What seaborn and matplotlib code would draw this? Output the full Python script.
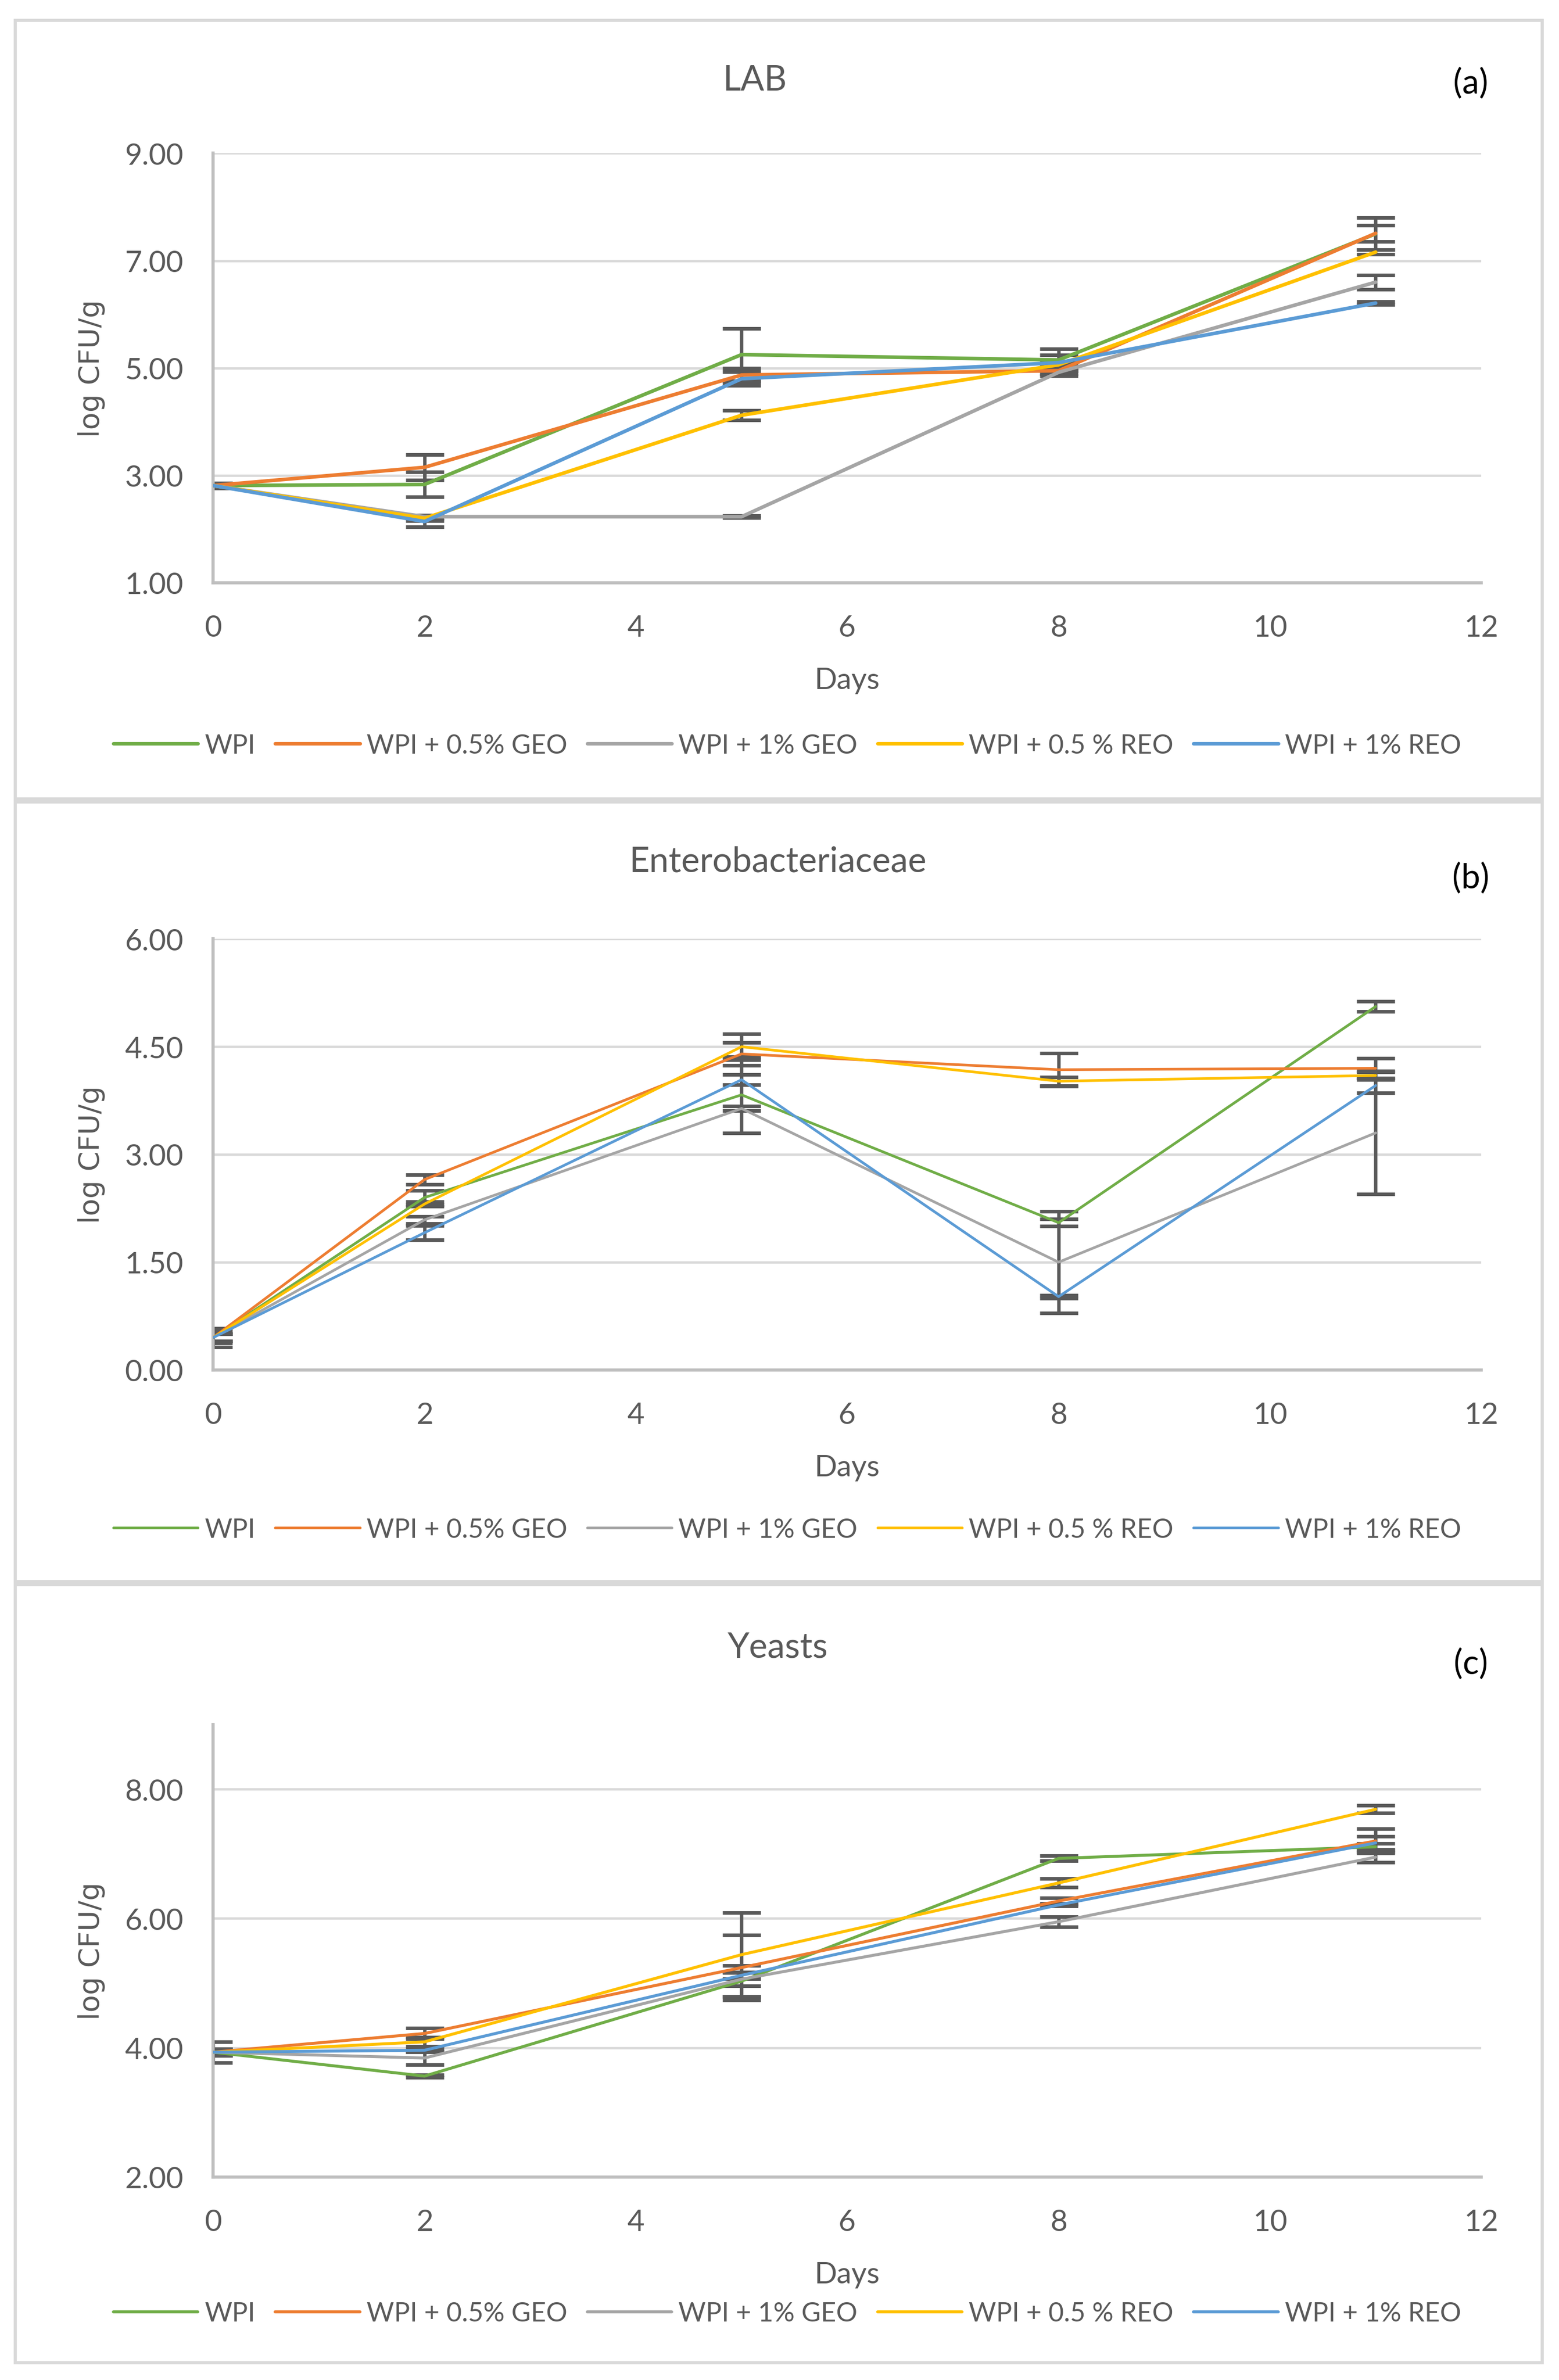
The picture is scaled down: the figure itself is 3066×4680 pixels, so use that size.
import matplotlib
matplotlib.use('Agg')
import matplotlib.pyplot as plt
import matplotlib.ticker as mticker
from matplotlib.patches import Rectangle
import pandas as pd
import seaborn as sns

days = [0, 2, 5, 8, 11]
series = ['WPI', 'WPI + 0.5% GEO', 'WPI + 1% GEO', 'WPI + 0.5 % REO', 'WPI + 1% REO']
colors = ['#70AD47', '#ED7D31', '#A5A5A5', '#FFC000', '#5B9BD5']

# (a) LAB, one row per series, one value per day
lab_mean = [[2.81, 2.83, 5.25, 5.15, 7.50],
            [2.81, 3.15, 4.87, 4.95, 7.51],
            [2.81, 2.23, 2.23, 4.92, 6.60],
            [2.81, 2.20, 4.12, 5.06, 7.16],
            [2.81, 2.14, 4.80, 5.10, 6.21]]
lab_err = [[0.05, 0.23, 0.49, 0.21, 0.30],
           [0.05, 0.24, 0.13, 0.10, 0.15],
           [0.03, 0.03, 0.02, 0.03, 0.13],
           [0.03, 0.05, 0.09, 0.05, 0.04],
           [0.05, 0.10, 0.13, 0.14, 0.03]]

# (b) Enterobacteriaceae
ent_mean = [[0.45, 2.40, 3.83, 2.05, 5.06],
            [0.45, 2.65, 4.40, 4.18, 4.20],
            [0.45, 2.09, 3.64, 1.50, 3.30],
            [0.45, 2.31, 4.50, 4.02, 4.10],
            [0.45, 1.91, 4.04, 1.02, 3.96]]
ent_err = [[0.13, 0.10, 0.53, 0.05, 0.07],
           [0.08, 0.07, 0.16, 0.23, 0.14],
           [0.05, 0.05, 0.03, 0.71, 0.85],
           [0.05, 0.03, 0.18, 0.06, 0.06],
           [0.05, 0.10, 0.07, 0.02, 0.10]]

# (c) Yeasts
yst_mean = [[3.93, 3.56, 5.03, 6.93, 7.11],
            [3.93, 4.22, 5.24, 6.27, 7.20],
            [3.93, 3.84, 5.06, 5.95, 6.95],
            [3.93, 4.09, 5.44, 6.55, 7.69],
            [3.93, 3.96, 5.12, 6.21, 7.17]]
yst_err = [[0.16, 0.02, 0.24, 0.04, 0.05],
           [0.05, 0.08, 0.50, 0.05, 0.19],
           [0.05, 0.10, 0.10, 0.08, 0.08],
           [0.05, 0.07, 0.65, 0.07, 0.06],
           [0.05, 0.03, 0.05, 0.02, 0.10]]

sns.set_style('white')
plt.rcParams['font.family'] = ['Lato', 'DejaVu Sans']

W, H = 1024, 1563.4  # layout units of the reference


def fx(x):
    return x / W


def fy(y):
    return 1 - y / H


panels = [
    dict(title='LAB', tag='(a)', mean=lab_mean, err=lab_err, ylim=(1, 9), ticks=[1, 3, 5, 7, 9],
         top=101, bottom=383, frame=(13.5, 525), title_x=496, title_y=53, tag_y=55,
         leg_y=490, lw=1.7),
    dict(title='Enterobacteriaceae', tag='(b)', mean=ent_mean, err=ent_err, ylim=(0, 6),
         ticks=[0, 1.5, 3, 4.5, 6], top=617, bottom=900, frame=(527, 1039), title_x=511,
         title_y=566, tag_y=577, leg_y=1005, lw=1.25),
    dict(title='Yeasts', tag='(c)', mean=yst_mean, err=yst_err, ylim=(2, 9), ticks=[2, 4, 6, 8],
         top=1133, bottom=1430, frame=(1041, 1552), title_x=511, title_y=1082, tag_y=1093,
         leg_y=1520, lw=1.4),
]

fig = plt.figure(figsize=(10.22, 15.603), dpi=300)

for p in panels:
    f0, f1 = p['frame']
    fig.patches.append(Rectangle((fx(10), fy(f1)), fx(1013) - fx(10), fy(f0) - fy(f1),
                                 transform=fig.transFigure, fill=False,
                                 edgecolor='#D9D9D9', linewidth=1.5))

    ax = fig.add_axes([fx(140), fy(p['bottom']), fx(973) - fx(140), fy(p['top']) - fy(p['bottom'])])

    rows = []
    for name, m in zip(series, p['mean']):
        for d, v in zip(days, m):
            rows.append({'Days': d, 'value': v, 'series': name})
    df = pd.DataFrame(rows)

    for name, m, e in zip(series, p['mean'], p['err']):
        ax.errorbar(days, m, yerr=e, fmt='none', ecolor='#595959', elinewidth=1.6,
                    capsize=9, capthick=1.7, zorder=2)

    sns.lineplot(data=df, x='Days', y='value', hue='series', hue_order=series,
                 palette=colors, linewidth=p['lw'], ax=ax, zorder=3, sort=False)

    handles, labels = ax.get_legend_handles_labels()
    ax.get_legend().remove()

    ax.set_xlim(0, 12)
    ax.set_ylim(*p['ylim'])
    ax.set_xticks(range(0, 13, 2))
    ax.set_yticks(p['ticks'])
    ax.yaxis.set_major_formatter(mticker.FormatStrFormatter('%.2f'))
    ax.grid(axis='y', color='#D9D9D9', linewidth=1.1, zorder=0)
    ax.grid(axis='x', visible=False)
    ax.set_axisbelow(True)
    for s in ['top', 'right']:
        ax.spines[s].set_visible(False)
    for s in ['left', 'bottom']:
        ax.spines[s].set_color('#BFBFBF')
        ax.spines[s].set_linewidth(1.5)
    ax.tick_params(axis='both', length=0, labelsize=14, labelcolor='#595959')
    ax.tick_params(axis='x', pad=15)
    ax.tick_params(axis='y', pad=14)
    ax.set_xlabel('')
    ax.set_ylabel('')

    mid = (p['top'] + p['bottom']) / 2
    fig.text(fx(60), fy(mid), 'log CFU/g', rotation=90, ha='center', va='center',
             fontsize=13.5, color='#595959', family='DejaVu Sans')
    fig.text(fx(556.5), fy(p['bottom'] + 64), 'Days', ha='center', va='center',
             fontsize=14, color='#595959')
    fig.text(fx(p['title_x']), fy(p['title_y']), p['title'],
             ha='center', va='center', fontsize=16.5, color='#595959')
    fig.text(fx(966), fy(p['tag_y']), p['tag'], ha='center', va='center',
             fontsize=16, color='black')

    fig.legend(handles, labels, loc='center', bbox_to_anchor=(fx(517), fy(p['leg_y'])),
               ncol=5, frameon=False, fontsize=12.5, handlelength=3.2, handletextpad=0.25,
               columnspacing=0.75, labelcolor='#595959')

fig.savefig('out.png', dpi=300)
